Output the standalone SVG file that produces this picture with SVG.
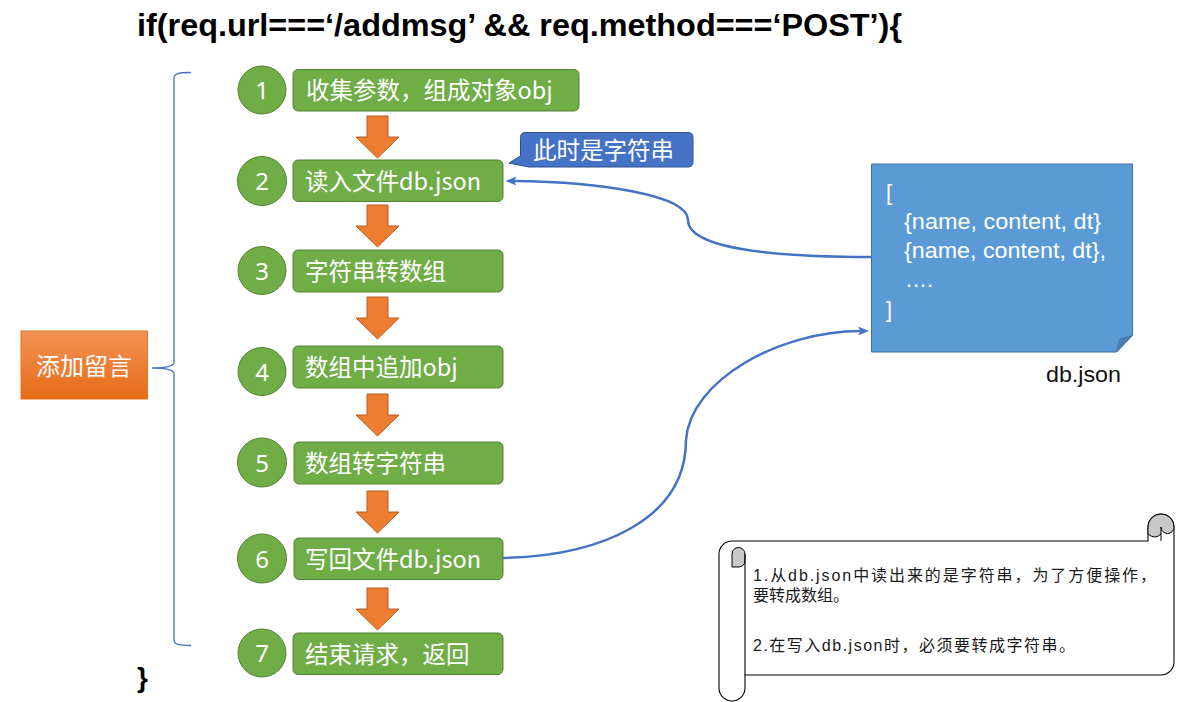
<svg xmlns="http://www.w3.org/2000/svg" width="1186" height="702" viewBox="0 0 1186 702">
<style>
.step{fill:#70AD47;stroke:#548235;stroke-width:1}
.num{font-family:"Noto Sans","Liberation Sans",sans-serif;font-size:24px;fill:#fff;text-anchor:middle}
.lbl{font-family:"Noto Sans CJK SC","Noto Sans",sans-serif;font-size:23.5px;fill:#fff}
.flow{fill:#ED7D31;stroke:#B85E22;stroke-width:1}
.conn{fill:none;stroke:#4472C4;stroke-width:2.5}
.note{font-family:"Liberation Sans","Noto Sans",sans-serif;font-size:22px;fill:#fff}
.scroll{fill:#fff;stroke:#000;stroke-width:1.1}
.stxt{font-family:"Liberation Sans","Noto Sans CJK SC",sans-serif;font-size:16px;fill:#1a1a1a}
</style>
<defs>
<linearGradient id="og" x1="0" y1="0" x2="0" y2="1">
<stop offset="0" stop-color="#F39257"/>
<stop offset="1" stop-color="#E66C17"/>
</linearGradient>
<marker id="ah" markerUnits="userSpaceOnUse" markerWidth="12" markerHeight="10" refX="2.5" refY="4.5" orient="auto">
<path d="M0,0 L11,4.5 L0,9 L2.5,4.5 Z" fill="#4472C4"/>
</marker>
<path id="arr" d="M-10.5,0 H10.5 V21 H21.5 L0,42 L-21.5,21 H-10.5 Z"/>
</defs>

<g id="title">
<text x="137" y="36" font-family="Liberation Sans,Arial,sans-serif" font-weight="bold" font-size="32" textLength="765" lengthAdjust="spacingAndGlyphs" fill="#000">if(req.url===‘/addmsg’ &amp;&amp; req.method===‘POST’){</text>
</g>
<g id="closing">
<text x="137" y="687" font-family="Liberation Sans,Arial,sans-serif" font-weight="bold" font-size="28" fill="#000">}</text>
</g>

<g id="add-message">
<rect x="21" y="331" width="126.5" height="68" fill="url(#og)" stroke="#E27422" stroke-width="1"/>
<text x="84" y="374.5" text-anchor="middle" font-family="Noto Sans CJK SC,sans-serif" font-size="24" fill="#fff">添加留言</text>
</g>

<g id="brace">
<path d="M191,72.5 C179,72.5 174,73.5 174,78 L174,362 C174,366 168,368 152,368 C168,368 174,370 174,374 L174,640 C174,644.5 179,645.5 191,645.5" fill="none" stroke="#4472C4" stroke-width="1.3"/>
</g>

<g id="flow-arrows">
<use href="#arr" class="flow" x="377.5" y="116"/>
<use href="#arr" class="flow" x="377.5" y="205"/>
<use href="#arr" class="flow" x="377.5" y="297"/>
<use href="#arr" class="flow" x="377.5" y="394"/>
<use href="#arr" class="flow" x="377.5" y="491"/>
<use href="#arr" class="flow" x="377.5" y="588"/>
</g>

<g id="step1">
<circle class="step" cx="262" cy="90" r="24"/>
<text class="num" x="262" y="99">1</text>
<rect class="step" x="293" y="69.5" width="286" height="41.5" rx="5"/>
<text class="lbl" x="306" y="99">收集参数，组成对象obj</text>
</g>
<g id="step2">
<circle class="step" cx="262" cy="181" r="24.5"/>
<text class="num" x="262" y="190">2</text>
<rect class="step" x="293" y="160" width="210" height="41.5" rx="5"/>
<text class="lbl" x="305" y="189.5">读入文件db.json</text>
</g>
<g id="step3">
<circle class="step" cx="262" cy="270.5" r="24"/>
<text class="num" x="262" y="279.5">3</text>
<rect class="step" x="293" y="250" width="210" height="42" rx="5"/>
<text class="lbl" x="305" y="280">字符串转数组</text>
</g>
<g id="step4">
<circle class="step" cx="262" cy="371.5" r="24"/>
<text class="num" x="262" y="380.5">4</text>
<rect class="step" x="293" y="346" width="210" height="42" rx="5"/>
<text class="lbl" x="305" y="376">数组中追加obj</text>
</g>
<g id="step5">
<circle class="step" cx="262" cy="462.5" r="24.5"/>
<text class="num" x="262" y="471.5">5</text>
<rect class="step" x="294" y="442" width="209" height="42" rx="5"/>
<text class="lbl" x="305" y="472">数组转字符串</text>
</g>
<g id="step6">
<circle class="step" cx="262" cy="558.5" r="24.5"/>
<text class="num" x="262" y="567.5">6</text>
<rect class="step" x="294" y="538" width="209" height="41.5" rx="5"/>
<text class="lbl" x="305" y="567.5">写回文件db.json</text>
</g>
<g id="step7">
<circle class="step" cx="262" cy="653" r="24"/>
<text class="num" x="262" y="662">7</text>
<rect class="step" x="293" y="633" width="210" height="41.5" rx="5"/>
<text class="lbl" x="305" y="663">结束请求，返回</text>
</g>

<g id="callout">
<path d="M525,132.5 H688 Q693,132.5 693,137.5 V162 Q693,167 688,167 H529 L509,163 L520.5,156 V137.5 Q520.5,132.5 525,132.5 Z" fill="#4472C4" stroke="#2F528F" stroke-width="1"/>
<text x="533" y="159" font-family="Noto Sans CJK SC,sans-serif" font-size="23.5" fill="#fff">此时是字符串</text>
</g>

<g id="dbjson-note">
<path d="M871.5,164 H1132.5 V335.5 L1116.5,352 H871.5 Z" fill="#5B9BD5" stroke="#41719C" stroke-width="1"/>
<path d="M1132.5,335.5 L1119.5,339 L1116.5,352 Z" fill="#4A80B6" stroke="#41719C" stroke-width="0.8"/>
<text class="note" x="886" y="200">[</text>
<text class="note" x="904" y="229" textLength="197" lengthAdjust="spacingAndGlyphs">{name, content, dt}</text>
<text class="note" x="904" y="258" textLength="202" lengthAdjust="spacingAndGlyphs">{name, content, dt},</text>
<text class="note" x="905" y="287">….</text>
<text class="note" x="886" y="317">]</text>
<text x="1046" y="382" font-family="Liberation Sans,Noto Sans,sans-serif" font-size="22" textLength="75" lengthAdjust="spacingAndGlyphs" fill="#111">db.json</text>
</g>

<g id="connectors">
<path class="conn" d="M871,257 C770,257 688,248 688,220 C688,195 600,182 514,181" marker-end="url(#ah)"/>
<path class="conn" d="M503,558 C600,556 686,520 686,440 C690,380 780,331 860.5,331" marker-end="url(#ah)"/>
</g>

<g id="scroll-note">
<path class="scroll" d="M732,541 H1148 V527 A13,13 0 0 1 1174,527 V662 A13,13 0 0 1 1161,675 H745 V688 A13,13 0 0 1 719,688 V554 A13,13 0 0 1 732,541 Z"/>
<path d="M732,567 V554 A6.5,6.5 0 0 1 745,554 V560 Q745,567 738,567 Z" fill="#C8C8C8" stroke="#000" stroke-width="1"/>
<line x1="745" y1="554" x2="745" y2="675" stroke="#000" stroke-width="1.1"/>
<path d="M1148,527 A13,13 0 0 1 1174,527 A6.5,6.5 0 0 1 1161,527 V534 Q1155,540 1148,534 Z" fill="#C8C8C8" stroke="#000" stroke-width="1"/>
<line x1="1161" y1="534" x2="1161" y2="541" stroke="#000" stroke-width="1"/>
<text class="stxt"><tspan x="753" y="581" textLength="403" lengthAdjust="spacing">1.从db.json中读出来的是字符串，为了方便操作，</tspan><tspan x="753" y="601">要转成数组。</tspan></text>
<text class="stxt" x="753" y="651" textLength="322" lengthAdjust="spacing">2.在写入db.json时，必须要转成字符串。</text>
</g>
</svg>
